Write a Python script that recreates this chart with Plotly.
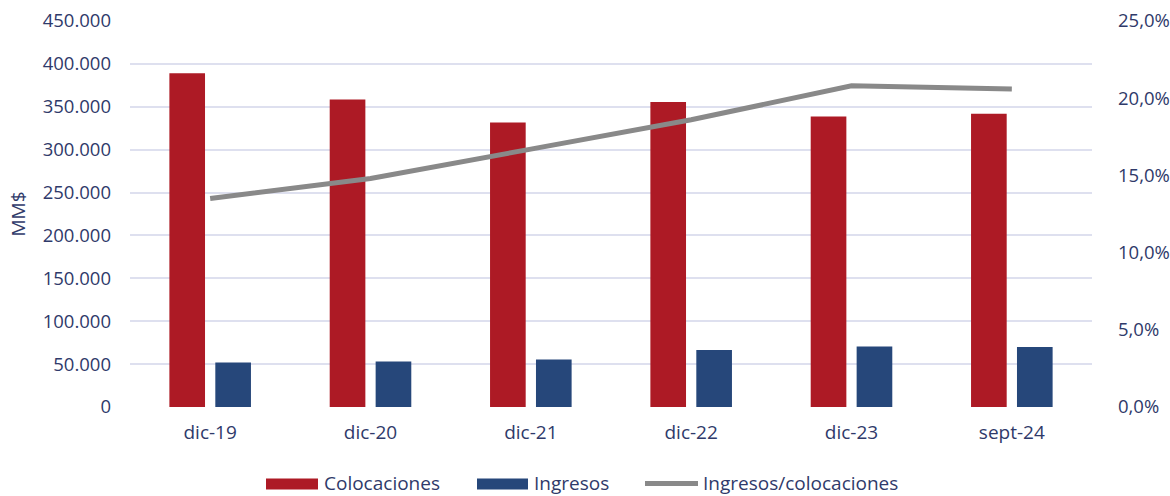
import plotly.graph_objects as go

# Data
periodos = ["dic-19", "dic-20", "dic-21", "dic-22", "dic-23", "sept-24"]
colocaciones = [389000, 358600, 331600, 355500, 338700, 341800]   # MM$
ingresos = [51900, 53100, 55400, 66500, 70400, 70000]              # MM$
ratio = [0.135, 0.148, 0.167, 0.186, 0.208, 0.206]                 # Ingresos/colocaciones

y_ticks = [0, 50000, 100000, 150000, 200000, 250000, 300000, 350000, 400000, 450000]
y2_ticks = [0, 0.05, 0.10, 0.15, 0.20, 0.25]

RED = "#AD1A25"
BLUE = "#26477A"
GREY = "#898989"
TEXT = "#2F3A6A"
GRID = "#DEE0EF"
FONT = "Open Sans"

fig = go.Figure()
fig.add_trace(go.Bar(x=periodos, y=colocaciones, name="Colocaciones",
                     marker=dict(color=RED, line=dict(width=0))))
fig.add_trace(go.Bar(x=periodos, y=ingresos, name="Ingresos",
                     marker=dict(color=BLUE, line=dict(width=0))))
fig.add_trace(go.Scatter(x=periodos, y=ratio, name="Ingresos/colocaciones",
                         mode="lines", yaxis="y2",
                         line=dict(color=GREY, width=5)))

# Plot area geometry (pixels) used to place the custom legend
W, H = 1170, 496
L, R, T, B = 130, 78, 21, 89
pw, ph = W - L - R, H - T - B


def px(x):
    return (x - L) / pw


def py(y):
    return (H - B - y) / ph


shapes = [
    dict(type="rect", xref="paper", yref="paper",
         x0=px(266), x1=px(318), y0=py(489.5), y1=py(478.5),
         fillcolor=RED, line=dict(width=0)),
    dict(type="rect", xref="paper", yref="paper",
         x0=px(477), x1=px(528), y0=py(489.5), y1=py(478.5),
         fillcolor=BLUE, line=dict(width=0)),
    dict(type="line", xref="paper", yref="paper",
         x0=px(645), x1=px(698), y0=py(483.5), y1=py(483.5),
         line=dict(color=GREY, width=5)),
]

legend_items = [("Colocaciones", 322), ("Ingresos", 532), ("Ingresos/colocaciones", 701)]
annotations = [
    dict(text=t, x=px(xp), y=py(483), xref="paper", yref="paper",
         xanchor="left", yanchor="middle", showarrow=False,
         font=dict(family=FONT, size=19, color=TEXT))
    for t, xp in legend_items
]

fig.update_layout(
    width=W, height=H,
    margin=dict(l=L, r=R, t=T, b=B, pad=0, autoexpand=False),
    paper_bgcolor="white", plot_bgcolor="white",
    separators=",.",
    barmode="group", bargap=0.427, bargroupgap=0.224,
    showlegend=False,
    font=dict(family=FONT, size=19, color=TEXT),
    shapes=shapes,
    annotations=annotations,
    xaxis=dict(type="category", showgrid=False, zeroline=False, showline=False,
               ticks="", ticklabelstandoff=12, automargin=False,
               tickfont=dict(family=FONT, size=19, color=TEXT)),
    yaxis=dict(range=[0, 450000], tickvals=y_ticks, tickformat=",.0f",
               showgrid=True, gridcolor=GRID, gridwidth=2, zeroline=False,
               showline=False, ticks="", ticklabelstandoff=18, automargin=False,
               tickfont=dict(family=FONT, size=18.5, color=TEXT),
               title=dict(text="MM$", standoff=12,
                          font=dict(family=FONT, size=19, color=TEXT))),
    yaxis2=dict(range=[0, 0.25], tickvals=y2_ticks, tickformat=".1%",
                overlaying="y", side="right", showgrid=False, zeroline=False,
                showline=False, ticks="", ticklabelstandoff=25, automargin=False,
                tickfont=dict(family=FONT, size=18.5, color=TEXT)),
)

fig.write_html("out.html")
